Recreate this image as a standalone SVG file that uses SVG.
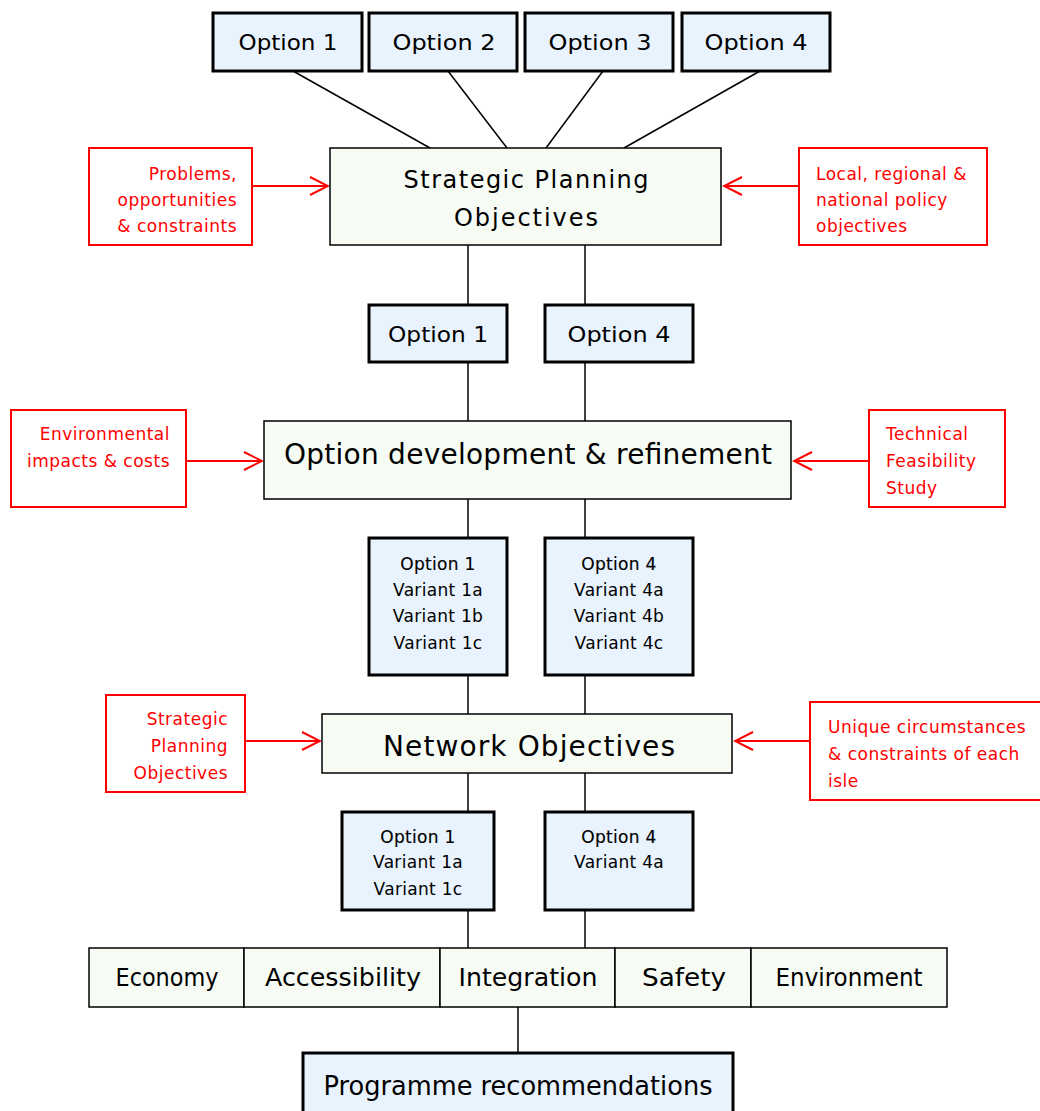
<svg xmlns="http://www.w3.org/2000/svg" width="1040" height="1111" viewBox="0 0 1040 1111">
<defs>
<marker id="arr" viewBox="0 0 22 22" refX="20" refY="11" markerWidth="22" markerHeight="22" markerUnits="userSpaceOnUse" orient="auto">
<path d="M2,2 L20,11 L2,20" fill="none" stroke="#ff0000" stroke-width="2"/>
</marker>
<style>
.blue{fill:#e9f3fd;stroke:#000;stroke-width:3}
.green{fill:#f6fcf4;stroke:#000;stroke-width:1.5}
.red{fill:#fff;stroke:#ff0000;stroke-width:2}
.t{font-family:"DejaVu Sans","Liberation Sans",sans-serif;fill:#000}
.rt{font-family:"DejaVu Sans","Liberation Sans",sans-serif;fill:#ff0000;font-size:17px;letter-spacing:0.5px}
.s{font-size:17px;letter-spacing:0.3px}
.sb{font-size:17px;letter-spacing:0.3px;stroke:#000;stroke-width:0.15}
.c{text-anchor:middle}
.e{text-anchor:end}
.ln{stroke:#000;stroke-width:1.5;fill:none}
.ra{stroke:#ff0000;stroke-width:2;fill:none;marker-end:url(#arr)}
</style>
</defs>
<g id="connectors">
<line class="ln" x1="293" y1="71" x2="430" y2="148"/>
<line class="ln" x1="448" y1="71" x2="507" y2="148"/>
<line class="ln" x1="603" y1="71" x2="546" y2="148"/>
<line class="ln" x1="760" y1="71" x2="624" y2="148"/>
<line class="ln" x1="468" y1="245" x2="468" y2="305"/>
<line class="ln" x1="585" y1="245" x2="585" y2="305"/>
<line class="ln" x1="468" y1="362" x2="468" y2="421"/>
<line class="ln" x1="585" y1="362" x2="585" y2="421"/>
<line class="ln" x1="468" y1="499" x2="468" y2="538"/>
<line class="ln" x1="585" y1="499" x2="585" y2="538"/>
<line class="ln" x1="468" y1="675" x2="468" y2="714"/>
<line class="ln" x1="585" y1="675" x2="585" y2="714"/>
<line class="ln" x1="468" y1="773" x2="468" y2="812"/>
<line class="ln" x1="585" y1="773" x2="585" y2="812"/>
<line class="ln" x1="468" y1="910" x2="468" y2="948"/>
<line class="ln" x1="585" y1="910" x2="585" y2="948"/>
<line class="ln" x1="518" y1="1007" x2="518" y2="1053"/>
<line class="ra" x1="252" y1="186" x2="328" y2="186"/>
<line class="ra" x1="799" y1="186" x2="724" y2="186"/>
<line class="ra" x1="186" y1="461" x2="262" y2="461"/>
<line class="ra" x1="869" y1="461" x2="794" y2="461"/>
<line class="ra" x1="245" y1="741" x2="320" y2="741"/>
<line class="ra" x1="810" y1="741" x2="735" y2="741"/>
</g>
<g id="top-option-1"><rect class="blue" x="213" y="13" width="149" height="58"/><text class="t c" x="288" y="50" font-size="22" textLength="99" lengthAdjust="spacingAndGlyphs">Option 1</text></g>
<g id="top-option-2"><rect class="blue" x="369" y="13" width="148" height="58"/><text class="t c" x="444" y="50" font-size="22" textLength="103" lengthAdjust="spacingAndGlyphs">Option 2</text></g>
<g id="top-option-3"><rect class="blue" x="525" y="13" width="148" height="58"/><text class="t c" x="600" y="50" font-size="22" textLength="103" lengthAdjust="spacingAndGlyphs">Option 3</text></g>
<g id="top-option-4"><rect class="blue" x="682" y="13" width="148" height="58"/><text class="t c" x="756" y="50" font-size="22" textLength="103" lengthAdjust="spacingAndGlyphs">Option 4</text></g>
<g id="strategic-planning"><rect class="green" x="330" y="148" width="391" height="97"/>
<text class="t c" x="526" y="188" font-size="24" textLength="245" lengthAdjust="spacing">Strategic Planning</text>
<text class="t c" x="526" y="226" font-size="24" textLength="144" lengthAdjust="spacing">Objectives</text></g>
<g id="problems"><rect class="red" x="89" y="148" width="163" height="97"/>
<text class="rt e" x="237" y="180">Problems,</text>
<text class="rt e" x="237" y="206">opportunities</text>
<text class="rt e" x="237" y="232">&amp; constraints</text></g>
<g id="policy"><rect class="red" x="799" y="148" width="188" height="97"/>
<text class="rt" x="816" y="180">Local, regional &amp;</text>
<text class="rt" x="816" y="206">national policy</text>
<text class="rt" x="816" y="232">objectives</text></g>
<g id="mid-option-1"><rect class="blue" x="369" y="305" width="138" height="57"/><text class="t c" x="438" y="342" font-size="22" textLength="100" lengthAdjust="spacingAndGlyphs">Option 1</text></g>
<g id="mid-option-4"><rect class="blue" x="545" y="305" width="148" height="57"/><text class="t c" x="619" y="342" font-size="22" textLength="103" lengthAdjust="spacingAndGlyphs">Option 4</text></g>
<g id="option-development"><rect class="green" x="264" y="421" width="527" height="78"/>
<text class="t c" x="528" y="464" font-size="28" textLength="488" lengthAdjust="spacing">Option development &amp; refinement</text></g>
<g id="environmental"><rect class="red" x="11" y="410" width="175" height="97"/>
<text class="rt e" x="170" y="440">Environmental</text>
<text class="rt e" x="170" y="467">impacts &amp; costs</text></g>
<g id="technical"><rect class="red" x="869" y="410" width="136" height="97"/>
<text class="rt" x="886" y="440">Technical</text>
<text class="rt" x="886" y="467">Feasibility</text>
<text class="rt" x="886" y="494">Study</text></g>
<g id="variants-1"><rect class="blue" x="369" y="538" width="138" height="137"/>
<text class="t sb c" x="438" y="570">Option 1</text>
<text class="t s c" x="438" y="596">Variant 1a</text>
<text class="t s c" x="438" y="622">Variant 1b</text>
<text class="t s c" x="438" y="649">Variant 1c</text></g>
<g id="variants-4"><rect class="blue" x="545" y="538" width="148" height="137"/>
<text class="t sb c" x="619" y="570">Option 4</text>
<text class="t s c" x="619" y="596">Variant 4a</text>
<text class="t s c" x="619" y="622">Variant 4b</text>
<text class="t s c" x="619" y="649">Variant 4c</text></g>
<g id="network-objectives"><rect class="green" x="322" y="714" width="410" height="59"/>
<text class="t c" x="529" y="756" font-size="28" textLength="292" lengthAdjust="spacing">Network Objectives</text></g>
<g id="spo-input"><rect class="red" x="106" y="695" width="139" height="97"/>
<text class="rt e" x="228" y="725">Strategic</text>
<text class="rt e" x="228" y="752">Planning</text>
<text class="rt e" x="228" y="779">Objectives</text></g>
<g id="unique"><rect class="red" x="810" y="702" width="238" height="98"/>
<text class="rt" x="828" y="733">Unique circumstances</text>
<text class="rt" x="828" y="760">&amp; constraints of each</text>
<text class="rt" x="828" y="787">isle</text></g>
<g id="final-1"><rect class="blue" x="342" y="812" width="152" height="98"/>
<text class="t sb c" x="418" y="843">Option 1</text>
<text class="t s c" x="418" y="868">Variant 1a</text>
<text class="t s c" x="418" y="895">Variant 1c</text></g>
<g id="final-4"><rect class="blue" x="545" y="812" width="148" height="98"/>
<text class="t sb c" x="619" y="843">Option 4</text>
<text class="t s c" x="619" y="868">Variant 4a</text></g>
<g id="criteria">
<rect class="green" x="89" y="948" width="155" height="59"/>
<rect class="green" x="244" y="948" width="196" height="59"/>
<rect class="green" x="440" y="948" width="175" height="59"/>
<rect class="green" x="615" y="948" width="136" height="59"/>
<rect class="green" x="751" y="948" width="196" height="59"/>
<text class="t c" x="167" y="986" font-size="24" textLength="103" lengthAdjust="spacingAndGlyphs">Economy</text>
<text class="t c" x="343" y="986" font-size="24" textLength="156" lengthAdjust="spacingAndGlyphs">Accessibility</text>
<text class="t c" x="528" y="986" font-size="24" textLength="139" lengthAdjust="spacingAndGlyphs">Integration</text>
<text class="t c" x="684" y="986" font-size="24" textLength="84" lengthAdjust="spacingAndGlyphs">Safety</text>
<text class="t c" x="849" y="986" font-size="24" textLength="147" lengthAdjust="spacingAndGlyphs">Environment</text>
</g>
<g id="programme"><rect class="blue" x="303" y="1053" width="430" height="70"/>
<text class="t c" x="518" y="1095" font-size="26" textLength="389" lengthAdjust="spacingAndGlyphs">Programme recommendations</text></g>
</svg>
